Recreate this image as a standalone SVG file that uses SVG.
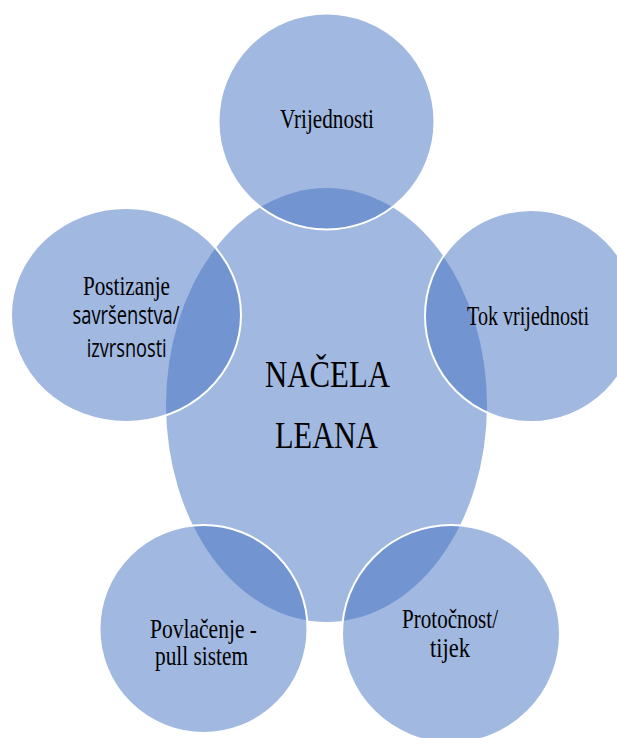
<svg xmlns="http://www.w3.org/2000/svg" width="617" height="738" viewBox="0 0 617 738">
<style>
.shape{fill:#4472C4;fill-opacity:0.5}
.circ{stroke:#ffffff;stroke-width:2}
.t{font-family:"Liberation Serif","Times New Roman",serif;font-size:28px;fill:#000;text-anchor:middle}
.s{font-family:"Open Sans","Liberation Sans",sans-serif;font-size:26px;fill:#000;text-anchor:middle}
.big{font-size:38px}
</style>
<rect width="617" height="738" fill="#ffffff"/>
<g id="center">
<ellipse class="shape" cx="326.5" cy="405" rx="160.5" ry="217"/>
<text class="t big" x="327.5" y="387" textLength="125" lengthAdjust="spacingAndGlyphs">NAČELA</text>
<text class="t big" x="326.5" y="448" textLength="103" lengthAdjust="spacingAndGlyphs">LEANA</text>
</g>
<g id="vrijednosti">
<circle class="shape circ" cx="326.5" cy="121.5" r="108"/>
<text class="t" x="327" y="128" textLength="94" lengthAdjust="spacingAndGlyphs">Vrijednosti</text>
</g>
<g id="tok">
<circle class="shape circ" cx="531" cy="316" r="106"/>
<text class="t" x="528" y="325" textLength="122" lengthAdjust="spacingAndGlyphs">Tok vrijednosti</text>
</g>
<g id="postizanje">
<ellipse class="shape circ" cx="126" cy="315" rx="115" ry="107"/>
<text class="t" x="126.5" y="295" textLength="87" lengthAdjust="spacingAndGlyphs">Postizanje</text>
<text class="s" x="126" y="324" textLength="107" lengthAdjust="spacingAndGlyphs">savršenstva/</text>
<text class="s" x="126.7" y="357" textLength="80" lengthAdjust="spacingAndGlyphs">izvrsnosti</text>
</g>
<g id="povlacenje">
<circle class="shape circ" cx="203.5" cy="629" r="104"/>
<text class="t" x="203.5" y="638" textLength="107" lengthAdjust="spacingAndGlyphs">Povlačenje -</text>
<text class="t" x="201.5" y="665" textLength="93" lengthAdjust="spacingAndGlyphs">pull sistem</text>
</g>
<g id="protocnost">
<circle class="shape circ" cx="451" cy="634" r="109"/>
<text class="t" x="450" y="628" textLength="96" lengthAdjust="spacingAndGlyphs">Protočnost/</text>
<text class="t" x="450" y="657" textLength="40" lengthAdjust="spacingAndGlyphs">tijek</text>
</g>
<g id="connectors"/>
</svg>
